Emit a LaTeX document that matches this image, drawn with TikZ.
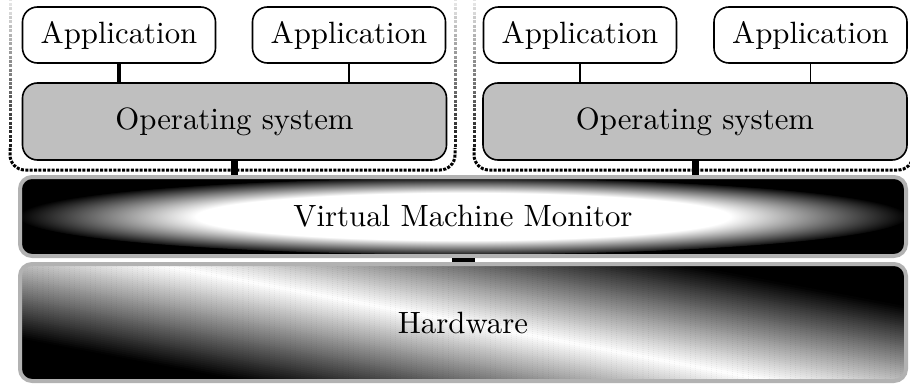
\documentclass[tikz,border=0pt]{standalone}
\usepackage{graphicx}
\pgfdeclareradialshading{vmmshade}{\pgfpoint{0bp}{0bp}}{color(0bp)=(white); color(15bp)=(white); color(25bp)=(black); color(50bp)=(black)}
\newcommand\mylbl[1]{\scalebox{1.54}{#1}}
% diagonal black-white-black band used to fill the hardware layer
\newcommand\hwstrips{%
  \foreach \k in {0,...,99}{%
    \pgfmathsetmacro\oa{-50+\k}%
    \pgfmathsetmacro\ob{\oa+1.2}%
    \pgfmathsetmacro\p{min(100,abs(\oa+0.5)*2)}%
    \fill[black!\p]
      ([xshift=-232pt, yshift=44.08pt+\oa pt]path picture bounding box.center) --
      ([xshift=232pt, yshift=-44.08pt+\oa pt]path picture bounding box.center) --
      ([xshift=232pt, yshift=-44.08pt+\ob pt]path picture bounding box.center) --
      ([xshift=-232pt, yshift=44.08pt+\ob pt]path picture bounding box.center) -- cycle;
  }%
}
\begin{document}
\begin{tikzpicture}[x=0.5pt, y=-0.5pt,
  every node/.style={font=\fontsize{10}{12}\selectfont, inner sep=0pt},
  appbox/.style={draw, line width=0.8pt, fill=white, rounded corners=7.5pt, minimum width=96.5pt, minimum height=28pt},
  osbox/.style={draw, line width=0.8pt, fill=black!25, rounded corners=7.5pt, minimum width=212pt, minimum height=38.5pt},
  layerbox/.style={draw=black!30, line width=2pt, rounded corners=6pt, minimum width=443pt, fill=black},
  vmdash/.style={line width=1.5pt, dash pattern=on 1.5pt off 0.7pt},
  thinlink/.style={line width=0.6pt},
  thicklink/.style={line width=1.8pt},
  oslink/.style={line width=3.5pt},
  hwlink/.style={line width=11.5pt}
]
\useasboundingbox (0,0) rectangle (910,385);

% dashed virtual machine boundaries, fading out towards the top
\foreach \xx in {10,455,474,913}{
  \foreach \k in {0,...,17}{
    \pgfmathsetmacro\ya{-10.4+8.8*\k}
    \pgfmathsetmacro\yb{\ya+8.8}
    \pgfmathsetmacro\p{min(100,(\ya+20.4)/1.8)}
    \draw[vmdash, draw=black!\p] (\xx,\ya) -- (\xx,\yb);
  }
}
\coordinate (l2) at (10,148);
\coordinate (l3) at (10,170);
\coordinate (l4) at (455,170);
\coordinate (l5) at (455,148);
\coordinate (r2) at (474,148);
\coordinate (r3) at (474,170);
\coordinate (r4) at (913,170);
\coordinate (r5) at (913,148);
\draw[vmdash, rounded corners=7.5pt] (l2) -- (l3) -- (l4) -- (l5);
\draw[vmdash, rounded corners=7.5pt] (r2) -- (r3) -- (r4) -- (r5);

% nodes
\node[appbox] (a1) at (119,35) {\mylbl{Application}};
\node[appbox] (a2) at (349,35) {\mylbl{Application}};
\node[appbox] (a3) at (580,35) {\mylbl{Application}};
\node[appbox] (a4) at (810.5,35) {\mylbl{Application}};
\node[osbox] (os1) at (234.5,121.5) {\mylbl{Operating system}};
\node[osbox] (os2) at (695,121.5) {\mylbl{Operating system}};
\node[layerbox, minimum height=39.5pt,
  path picture={\shade[shading=vmmshade] (path picture bounding box.center) ellipse [x radius=222.5pt, y radius=19pt];}]
  (vmm) at (463,216.5) {\mylbl{Virtual Machine Monitor}};
\node[layerbox, minimum height=58.5pt, path picture={\hwstrips}]
  (hw) at (463,322.5) {\mylbl{Hardware}};

% connectors
\draw[thicklink] (a1.south) -- (a1.south |- os1.north);
\draw[thinlink] (a2.south) -- (a2.south |- os1.north);
\draw[thinlink] (a3.south) -- (a3.south |- os2.north);
\draw[thinlink] (a4.south) -- (a4.south |- os2.north);
\draw[oslink] (os1.south) -- (os1.south |- vmm.north);
\draw[oslink] (os2.south) -- (os2.south |- vmm.north);
\draw[hwlink] (vmm.south) -- (hw.north);
\end{tikzpicture}
\end{document}
